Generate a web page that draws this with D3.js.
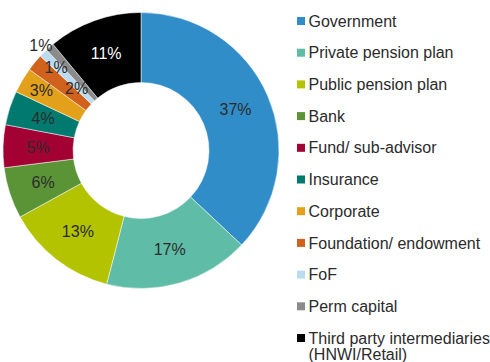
<!DOCTYPE html>
<html>
<head>
<meta charset="utf-8">
<script src="https://cdn.jsdelivr.net/npm/d3@7/dist/d3.min.js"></script>
<style>
  html, body { margin: 0; padding: 0; background: #fff; }
  svg { display: block; }
  text { font-family: "Liberation Sans", Arial, sans-serif; }
</style>
</head>
<body>
<div id="chart"></div>
<script>
// Investor mix by type (share of total, %)
const categories = [
  "Government", "Private pension plan", "Public pension plan", "Bank",
  "Fund/ sub-advisor", "Insurance", "Corporate", "Foundation/ endowment",
  "FoF", "Perm capital", "Third party intermediaries (HNWI/Retail)"
];
const values = [37, 17, 13, 6, 5, 4, 3, 2, 1, 1, 11];
const colors = [
  "#318dc8", "#5fbca6", "#b3c300", "#5b9436", "#a30033", "#007a6f",
  "#e3a11b", "#d0621d", "#bbdcf0", "#8b8b8b", "#000000"
];
// Hand-placed nudges (px) for the crowded small-slice labels
const labelNudge = [
  [0, 0], [0, 0], [0, 0], [0, 0], [0, 0], [0, 0],
  [-11, -8], [15, 4], [-12, -10], [-32, -28], [0, 0]
];

const W = 490, H = 362;
const cx = 141, cy = 150.5, rOuter = 138, rInner = 68;

const svg = d3.select("#chart").append("svg")
  .attr("width", W).attr("height", H);

const pie = d3.pie().sort(null).value(d => d)(values);
const arc = d3.arc().innerRadius(rInner).outerRadius(rOuter);

const g = svg.append("g").attr("transform", `translate(${cx},${cy})`);

g.selectAll("path.slice")
  .data(pie)
  .join("path")
  .attr("class", "slice")
  .attr("d", arc)
  .attr("fill", (d, i) => colors[i])
  .attr("stroke", "#ffffff")
  .attr("stroke-width", 0.5);

g.selectAll("text.val")
  .data(pie)
  .join("text")
  .attr("class", "val")
  .attr("x", (d, i) => arc.centroid(d)[0] + labelNudge[i][0])
  .attr("y", (d, i) => arc.centroid(d)[1] + labelNudge[i][1])
  .attr("text-anchor", "middle")
  .attr("dominant-baseline", "central")
  .attr("font-size", 16)
  .attr("fill", (d, i) => i === 10 ? "#ffffff" : "#2b2b2b")
  .text(d => d.data + "%");

// Legend
const legend = svg.append("g").attr("transform", "translate(297,0)");
const rowY = d3.scaleLinear().domain([0, 10]).range([21, 338]);

const rows = legend.selectAll("g.row")
  .data(categories)
  .join("g")
  .attr("class", "row")
  .attr("transform", (d, i) => `translate(0,${rowY(i)})`);

rows.append("rect")
  .attr("x", 0).attr("y", -4)
  .attr("width", 8).attr("height", 8)
  .attr("fill", (d, i) => colors[i]);

rows.append("text")
  .attr("x", 11.5)
  .attr("y", 0)
  .attr("font-size", 16)
  .attr("fill", "#2b2b2b")
  .each(function (d) {
    const t = d3.select(this);
    const parts = d.startsWith("Third party") ? ["Third party intermediaries", "(HNWI/Retail)"] : [d];
    parts.forEach((p, k) => {
      t.append("tspan")
        .attr("x", 11.5)
        .attr("dy", k === 0 ? "0.35em" : "1.0em")
        .text(p);
    });
  });
</script>
</body>
</html>
